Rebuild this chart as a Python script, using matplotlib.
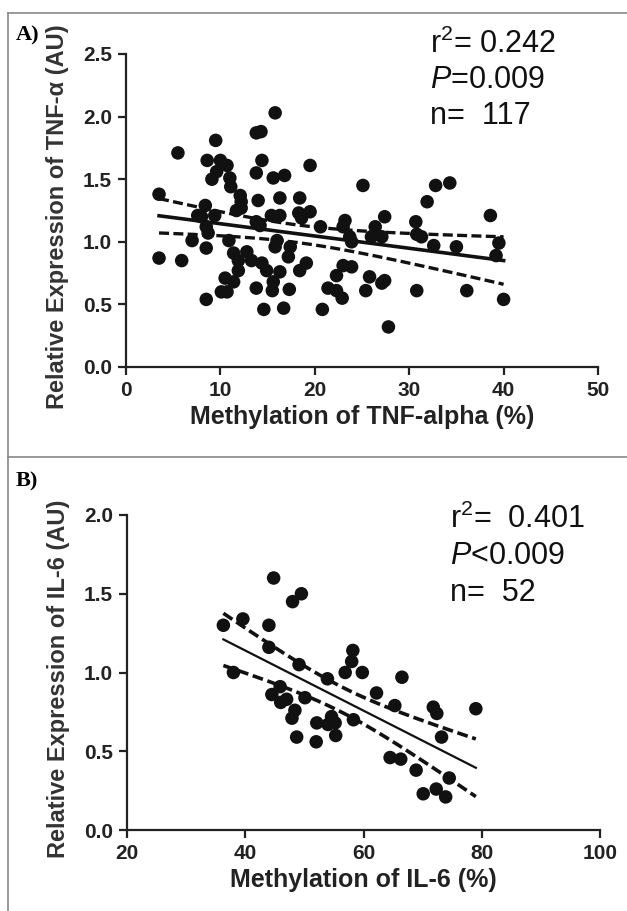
import numpy as np
import matplotlib
matplotlib.use("Agg")
import matplotlib.pyplot as plt
from matplotlib.lines import Line2D

plt.rcParams['font.family'] = ['Liberation Sans', 'DejaVu Sans']
plt.rcParams['mathtext.fontset'] = 'custom'
plt.rcParams['mathtext.rm'] = 'Liberation Sans'
plt.rcParams['mathtext.it'] = 'Liberation Sans:italic'
plt.rcParams['mathtext.bf'] = 'Liberation Sans:bold'

# ---------------- data ----------------
tnf_meth = [15.8, 13.8, 14.3, 9.5, 5.5, 8.6, 10.0, 10.7, 14.4, 9.6, 9.1, 11.0, 11.1, 13.8,
            15.6, 16.8, 19.5, 3.5, 12.1, 12.2, 14.0, 16.3, 18.4, 8.4, 11.7, 12.2, 7.6, 8.0,
            9.4, 15.4, 16.3, 18.3, 18.6, 13.8, 14.2, 8.5, 8.7, 7.0, 10.9, 16.0, 15.8, 17.4,
            17.2, 8.5, 3.5, 5.9, 11.4, 11.9, 12.8, 13.3, 14.4, 14.9, 11.9, 16.3, 18.4, 10.5,
            11.4, 15.6, 10.1, 10.7, 13.8, 15.5, 17.3, 8.5, 14.6, 16.7,
            25.1, 32.8, 34.3, 31.9, 38.6, 27.4, 19.5, 23.2, 23.0, 20.6, 26.4, 30.7, 30.8,
            23.7, 23.9, 26.0, 27.1, 31.3, 32.6, 35.0, 39.5, 39.2, 19.1, 23.0, 23.9, 22.3,
            25.8, 27.4, 27.1, 21.4, 22.3, 22.9, 25.4, 30.8, 36.1, 20.8, 40.0, 27.8]
tnf_expr = [2.03, 1.87, 1.88, 1.81, 1.71, 1.65, 1.65, 1.61, 1.65, 1.56, 1.50, 1.51, 1.44, 1.55,
            1.51, 1.53, 1.61, 1.38, 1.37, 1.32, 1.33, 1.35, 1.35, 1.29, 1.25, 1.27, 1.21, 1.20,
            1.21, 1.21, 1.21, 1.23, 1.19, 1.16, 1.13, 1.12, 1.07, 1.01, 1.01, 1.01, 0.96, 0.96,
            0.88, 0.95, 0.87, 0.85, 0.91, 0.85, 0.92, 0.85, 0.83, 0.77, 0.77, 0.76, 0.77, 0.71,
            0.68, 0.68, 0.60, 0.60, 0.63, 0.61, 0.62, 0.54, 0.46, 0.47,
            1.45, 1.45, 1.47, 1.32, 1.21, 1.20, 1.24, 1.17, 1.12, 1.12, 1.12, 1.16, 1.06,
            1.04, 1.00, 1.04, 1.04, 1.04, 0.97, 0.96, 0.99, 0.89, 0.83, 0.81, 0.80, 0.73,
            0.72, 0.69, 0.67, 0.63, 0.61, 0.55, 0.61, 0.61, 0.61, 0.46, 0.54, 0.32]

il6_meth = [36.3, 39.6, 38.0, 44.8, 48.0, 49.5, 44.0, 44.0, 49.1, 58.2, 58.0, 56.9, 59.8,
            66.5, 53.9, 45.9, 44.5, 46.0, 47.0, 50.1, 62.2, 65.3, 71.8, 72.4, 48.4, 47.9,
            54.6, 54.0, 55.2, 52.1, 58.3, 48.7, 52.0, 55.3, 73.2, 64.5, 66.3, 68.9, 74.5,
            70.1, 72.3, 73.9, 79.0]
il6_expr = [1.30, 1.34, 1.00, 1.60, 1.45, 1.50, 1.30, 1.16, 1.05, 1.14, 1.07, 1.00, 1.00,
            0.97, 0.96, 0.91, 0.86, 0.81, 0.83, 0.84, 0.87, 0.79, 0.78, 0.74, 0.76, 0.71,
            0.72, 0.67, 0.68, 0.68, 0.70, 0.59, 0.56, 0.60, 0.59, 0.46, 0.45, 0.38, 0.33,
            0.23, 0.26, 0.21, 0.77]

x_ticks_a = [0, 10, 20, 30, 40, 50]
y_ticks_a = [0.0, 0.5, 1.0, 1.5, 2.0, 2.5]
x_ticks_b = [20, 40, 60, 80, 100]
y_ticks_b = [0.0, 0.5, 1.0, 1.5, 2.0]

stats_a = ["r$^2$= 0.242", "$\\mathit{P}$=0.009", "n=  117"]
stats_b = ["r$^2$=  0.401", "$\\mathit{P}$<0.009", "n=  52"]
t_a = 1.981   # t(0.975, 115)
t_b = 2.009   # t(0.975, 50)

W, H = 627, 911
fig = plt.figure(figsize=(W / 100, H / 100), dpi=100)

def px_axes(l, r, t, b):
    return fig.add_axes([l / W, 1 - b / H, (r - l) / W, (b - t) / H])

def fit_band(x, y, tval):
    x = np.asarray(x, float); y = np.asarray(y, float)
    n = len(x)
    b1, b0 = np.polyfit(x, y, 1)
    xs = np.linspace(x.min(), x.max(), 200)
    yh = b0 + b1 * xs
    res = y - (b0 + b1 * x)
    s = np.sqrt(np.sum(res ** 2) / (n - 2))
    sxx = np.sum((x - x.mean()) ** 2)
    se = s * np.sqrt(1 / n + (xs - x.mean()) ** 2 / sxx)
    return xs, yh, yh - tval * se, yh + tval * se

def panel(ax, x, y, xt, yt, xlabel, ylabel, tval, lw_solid, lw_dash, ylab_y):
    ax.scatter(x, y, s=95, color='#111111', edgecolors='none', zorder=3)
    xs, yh, lo, hi = fit_band(x, y, tval)
    ax.plot(xs, yh, color='#111111', lw=lw_solid, zorder=4)
    ax.plot(xs, lo, color='#111111', lw=lw_dash, ls=(0, (3, 1.3)), zorder=4)
    ax.plot(xs, hi, color='#111111', lw=lw_dash, ls=(0, (3, 1.3)), zorder=4)
    ax.set_xlim(xt[0], xt[-1])
    ax.set_ylim(yt[0], yt[-1])
    ax.set_xticks(xt)
    ax.set_yticks(yt)
    ax.set_xticklabels([str(v) for v in xt])
    ax.set_yticklabels(["%.1f" % v for v in yt])
    for sp in ['top', 'right']:
        ax.spines[sp].set_visible(False)
    for sp in ['left', 'bottom']:
        ax.spines[sp].set_linewidth(1.6)
        ax.spines[sp].set_color('#222222')
    ax.tick_params(direction='out', length=6, width=1.6, color='#222222',
                   labelsize=15, labelcolor='#222222', pad=4)
    for lab in ax.get_xticklabels() + ax.get_yticklabels():
        lab.set_fontweight('bold')
    ax.set_xlabel(xlabel, fontsize=18, fontweight='bold', color='#222222', labelpad=4)
    ax.set_ylabel(ylabel, fontsize=17, fontweight='bold', color='#333333')
    ax.yaxis.set_label_coords(-0.12, ylab_y)
    ax.patch.set_alpha(0)

axA = px_axes(126, 598, 54, 367)
panel(axA, tnf_meth, tnf_expr, x_ticks_a, y_ticks_a, "Methylation of TNF-alpha (%)",
      "Relative Expression of TNF-\u03b1 (AU)", t_a, 2.6, 2.4, 0.48)
axB = px_axes(127, 600, 515, 830)
panel(axB, il6_meth, il6_expr, x_ticks_b, y_ticks_b, "Methylation of IL-6 (%)",
      "Relative Expression of IL-6 (AU)", t_b, 1.6, 2.6, 0.48)

for i, s in enumerate(stats_a):
    fig.text(430 / W, 1 - (44 + 36 * i) / H, s, fontsize=22, color='#111111', va='center', ha='left')
for i, s in enumerate(stats_b):
    fig.text(450 / W, 1 - (519 + 37 * i) / H, s, fontsize=22, color='#111111', va='center', ha='left')

# panel frames
frame_col = '#888888'
fig.add_artist(Line2D([8 / W, 8 / W], [1 - 13 / H, 0], color=frame_col, lw=1.2, transform=fig.transFigure))
fig.add_artist(Line2D([8 / W, 1], [1 - 13 / H, 1 - 13 / H], color=frame_col, lw=1.2, transform=fig.transFigure))
fig.add_artist(Line2D([8 / W, 1], [1 - 457 / H, 1 - 457 / H], color=frame_col, lw=1.2, transform=fig.transFigure))

fig.text(16 / W, 1 - 35 / H, "A)", fontsize=16, fontweight='bold', family='Liberation Serif',
         va='center', ha='left')
fig.text(16 / W, 1 - 481 / H, "B)", fontsize=16, fontweight='bold', family='Liberation Serif',
         va='center', ha='left')

fig.savefig("out.png", dpi=100)
